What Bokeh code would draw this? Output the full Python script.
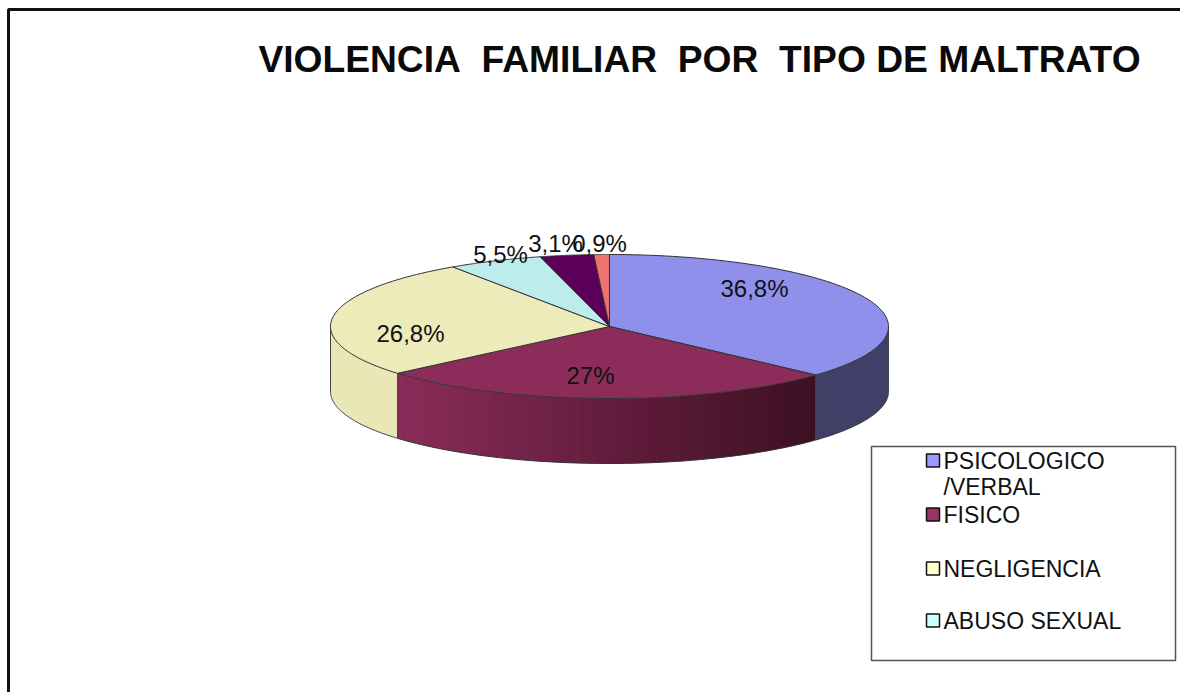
import math
from bokeh.plotting import figure
from bokeh.models import Range1d
from bokeh.embed import file_html
from bokeh.resources import INLINE
from bokeh.core.properties import value

title = "VIOLENCIA\u00a0\u00a0FAMILIAR\u00a0\u00a0POR\u00a0\u00a0TIPO DE MALTRATO"
categories = ["PSICOLOGICO /VERBAL", "FISICO", "NEGLIGENCIA", "ABUSO SEXUAL", "OTROS A", "OTROS B"]
values = [36.8, 27.0, 26.8, 5.5, 3.1, 0.9]
labels = ["36,8%", "27%", "26,8%", "5,5%", "3,1%", "0,9%"]
colors = ["#8f8fec", "#8b2c5a", "#ecebb9", "#bdeced", "#5c0058", "#ee7270"]
side_left = ["#3f3f68", "#8b2c5a", "#e9e7b6", "#bdeced", "#5c0058", "#ee7270"]
side_right = ["#3f3f68", "#3d1022", "#e9e7b6", "#bdeced", "#5c0058", "#ee7270"]
label_pos = [(754, 288), (590, 375), (410, 333), (500, 254), (555, 243), (599, 243)]
legend_rows = [("PSICOLOGICO", "/VERBAL", 460, "#9999ff"), ("FISICO", None, 514, "#993366"),
               ("NEGLIGENCIA", None, 568, "#ffffcc"), ("ABUSO SEXUAL", None, 620, "#ccffff")]

W, H = 1180, 692
OX, OY = 0, 0
CX, CY, RX, RY, D = 609, 326, 279, 72, 65

p = figure(width=W, height=H, output_backend="svg", toolbar_location=None,
           x_range=Range1d(OX, OX + W), y_range=Range1d(OY + H, OY),
           min_border=0, outline_line_color=None, background_fill_color="white")
p.axis.visible = False
p.grid.visible = False

def ell(t, dz=0):
    return CX + RX * math.sin(t), CY - RY * math.cos(t) + dz

def hexmix(a, b, f):
    ca = [int(a[i:i + 2], 16) for i in (1, 3, 5)]
    cb = [int(b[i:i + 2], 16) for i in (1, 3, 5)]
    return "#%02x%02x%02x" % tuple(round(x + (y - x) * f) for x, y in zip(ca, cb))

total = sum(values)
edges = [0]
for v in values:
    edges.append(edges[-1] + v / total * 2 * math.pi)

# frame
p.line([8, 8, 1180], [692, 9, 9], line_color="#111111", line_width=3)

# side walls (front half only)
for i in range(3):
    a, b = max(edges[i], math.pi / 2), min(edges[i + 1], 3 * math.pi / 2)
    if a >= b:
        continue
    tt = [a + (b - a) * k / 120 for k in range(121)]
    if side_left[i] == side_right[i]:
        xs = [ell(t)[0] for t in tt] + [ell(t)[0] for t in reversed(tt)]
        ys = [ell(t)[1] for t in tt] + [ell(t)[1] + D for t in reversed(tt)]
        p.patch(xs, ys, fill_color=side_left[i], line_color=None)
    else:
        n = 60
        xs, ys, cs = [], [], []
        xa, xb = ell(a)[0], ell(b)[0]
        for k in range(n):
            t0 = a + (b - a) * k / n
            t1 = min(a + (b - a) * (k + 1.4) / n, b)
            x0, y0 = ell(t0)
            x1, y1 = ell(t1)
            xs.append([x0, x1, x1, x0])
            ys.append([y0, y1, y1 + D, y0 + D])
            cs.append(hexmix(side_left[i], side_right[i], (x0 - xb) / (xa - xb)))
        p.patches(xs, ys, fill_color=cs, line_color=None)
    p.line([ell(t)[0] for t in tt], [ell(t)[1] + D for t in tt], line_color="#333333", line_width=1)
    for t in (a, b):
        x, y = ell(t)
        p.line([x, x], [y, y + D], line_color="#444444", line_width=1)

# top faces
for i in range(len(values)):
    tt = [edges[i] + (edges[i + 1] - edges[i]) * k / 80 for k in range(81)]
    xs = [CX] + [ell(t)[0] for t in tt]
    ys = [CY] + [ell(t)[1] for t in tt]
    p.patch(xs, ys, fill_color=colors[i], line_color="#333333", line_width=1)

# slice labels
for s, (x, y) in zip(labels, label_pos):
    p.text([x], [y], text=[s], text_font=value("Liberation Sans"), text_font_size="24px",
           text_color="#111111", text_align="center", text_baseline="middle")

# title
p.text([699], [58], text=[title], text_font=value("Liberation Sans"), text_font_style="bold",
       text_font_size="37.2px", text_color="#0a0a0a", text_align="center", text_baseline="middle")

# legend
p.patch([871, 1175, 1175, 871, 871], [446, 446, 660, 660, 446], fill_color="white", line_color="#555555", line_width=1.5)
for a, b, y, c in legend_rows:
    p.quad(left=[926], right=[939], top=[y - 6.5], bottom=[y + 6.5], fill_color=c, line_color="#111111", line_width=1.5)
    p.text([943], [y], text=[a], text_font=value("Liberation Sans"), text_font_size="23px",
           text_color="#111111", text_baseline="middle")
    if b:
        p.text([943], [y + 26], text=[b], text_font=value("Liberation Sans"), text_font_size="23px",
               text_color="#111111", text_baseline="middle")

open("out.html", "w").write(file_html(p, INLINE))
